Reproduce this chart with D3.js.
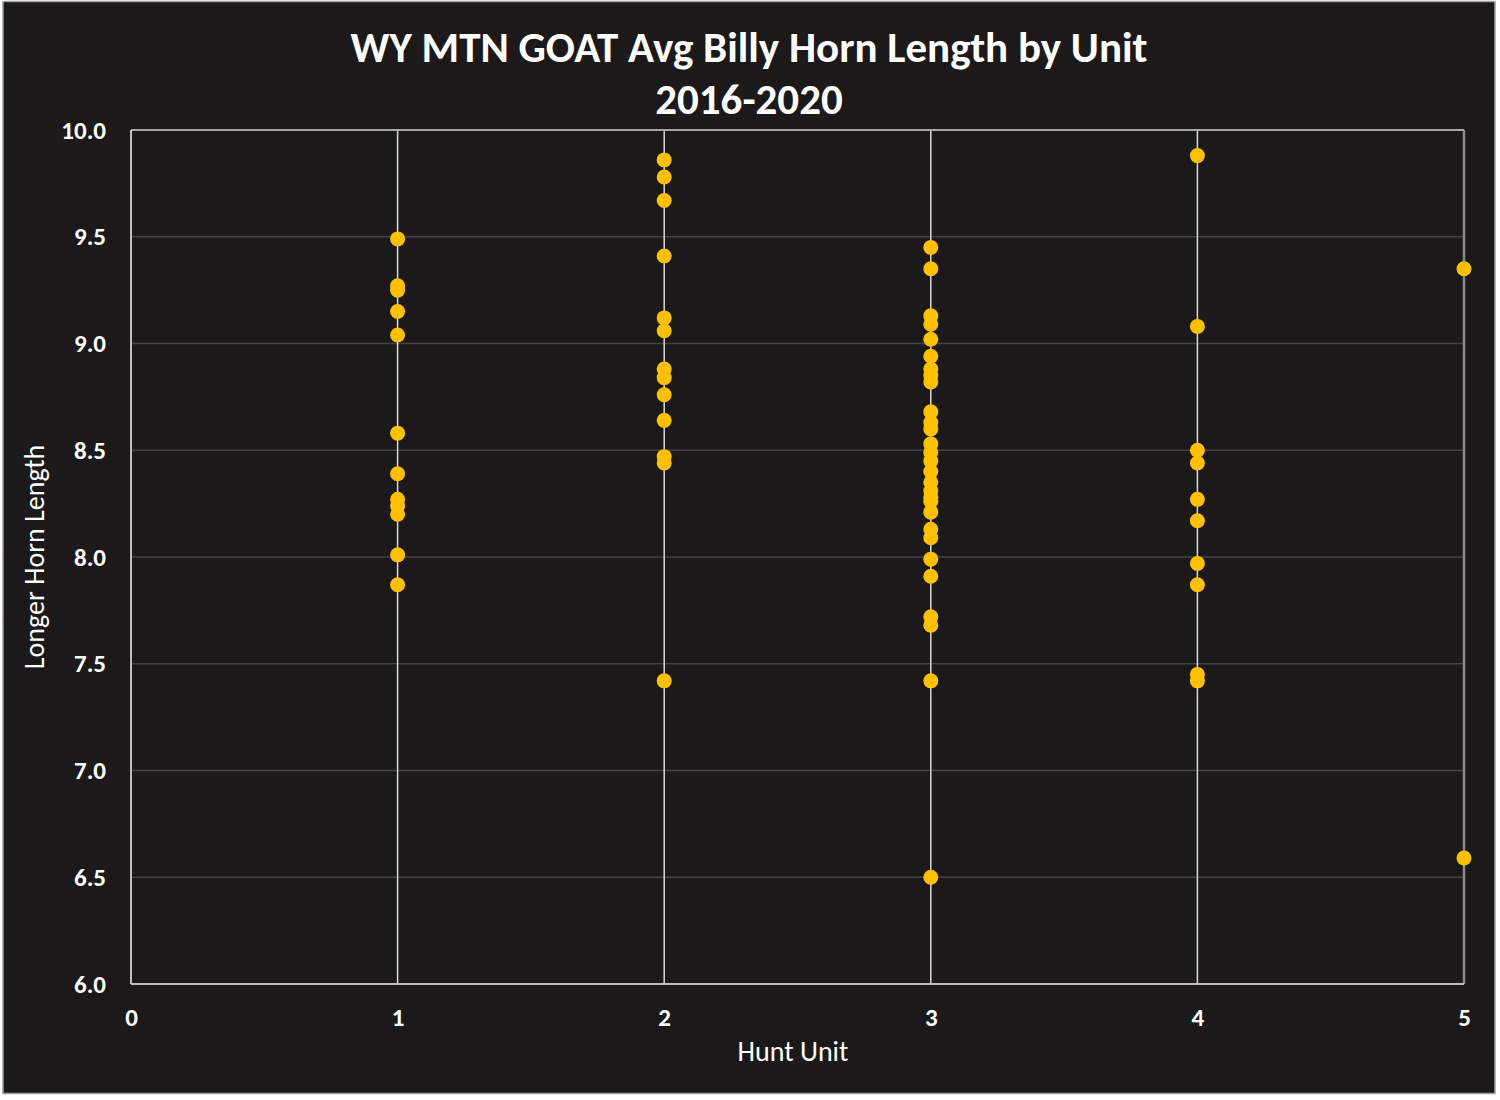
<!DOCTYPE html>
<html>
<head>
<meta charset="utf-8">
<script src="https://cdn.jsdelivr.net/npm/d3@7"></script>
<style>
  html, body { margin: 0; padding: 0; background: #ffffff; }
  svg { display: block; }
</style>
</head>
<body>
<svg id="chart" width="1500" height="1100"></svg>
<script>
const titleLines = ["WY MTN GOAT Avg Billy Horn Length by Unit", "2016-2020"];
const xLabel = "Hunt Unit";
const yLabel = "Longer Horn Length";
const xTicks = [0, 1, 2, 3, 4, 5];
const yTicks = [6.0, 6.5, 7.0, 7.5, 8.0, 8.5, 9.0, 9.5, 10.0];

const unit1 = [9.49, 9.27, 9.25, 9.15, 9.04, 8.58, 8.39, 8.27, 8.24, 8.20, 8.01, 7.87];
const unit2 = [9.86, 9.78, 9.67, 9.41, 9.12, 9.06, 8.88, 8.84, 8.76, 8.64, 8.47, 8.44, 7.42];
const unit3 = [9.45, 9.35, 9.13, 9.09, 9.02, 8.94, 8.88, 8.85, 8.82, 8.68, 8.63, 8.60,
               8.53, 8.49, 8.45, 8.40, 8.35, 8.31, 8.28, 8.26, 8.21, 8.13, 8.09,
               7.99, 7.91, 7.72, 7.68, 7.42, 6.50];
const unit4 = [9.88, 9.08, 8.50, 8.44, 8.27, 8.17, 7.97, 7.87, 7.45, 7.42];
const unit5 = [9.35, 6.59];

const units = [1, 2, 3, 4, 5];
const unitValues = [unit1, unit2, unit3, unit4, unit5];
const points = [];
units.forEach((u, i) => unitValues[i].forEach(v => points.push({unit: u, value: v})));

const svg = d3.select("#chart");
const font = "Carlito, Calibri, Lato, 'Open Sans', sans-serif";

// background card
svg.append("rect").attr("x", 3).attr("y", 1.5).attr("width", 1492).attr("height", 1092)
  .attr("fill", "#1b191a").attr("stroke", "#a0a0a0").attr("stroke-width", 1.5);

const x = d3.scaleLinear().domain([0, 5]).range([131, 1464]);
const y = d3.scaleLinear().domain([6, 10]).range([984, 130]);

// horizontal gridlines
svg.append("g").selectAll("line").data(yTicks.filter(t => t > 6 && t < 10)).join("line")
  .attr("x1", x(0)).attr("x2", x(5))
  .attr("y1", d => y(d)).attr("y2", d => y(d))
  .attr("stroke", "#454345").attr("stroke-width", 1.5);

// vertical gridlines
svg.append("g").selectAll("line").data([1, 2, 3, 4]).join("line")
  .attr("x1", d => x(d)).attr("x2", d => x(d))
  .attr("y1", y(10)).attr("y2", y(6))
  .attr("stroke", "#d9d9d9").attr("stroke-width", 1.5);

// plot frame
svg.append("line").attr("x1", x(5)).attr("x2", x(5)).attr("y1", y(10)).attr("y2", y(6))
  .attr("stroke", "#8a8a8a").attr("stroke-width", 2.5);
svg.append("line").attr("x1", x(0)).attr("x2", x(5)).attr("y1", y(10)).attr("y2", y(10))
  .attr("stroke", "#a6a6a6").attr("stroke-width", 2);
svg.append("line").attr("x1", x(0)).attr("x2", x(5)).attr("y1", y(6)).attr("y2", y(6))
  .attr("stroke", "#bfbfbf").attr("stroke-width", 2);
svg.append("line").attr("x1", x(0)).attr("x2", x(0)).attr("y1", y(10)).attr("y2", y(6))
  .attr("stroke", "#bfbfbf").attr("stroke-width", 2);

// axes (labels only) via d3 axis
const yAxis = d3.axisLeft(y).tickValues(yTicks).tickFormat(d3.format(".1f")).tickSize(0).tickPadding(25);
const gy = svg.append("g").attr("transform", `translate(${x(0)},0)`).call(yAxis);
gy.select(".domain").remove();
gy.selectAll("text").attr("fill", "#ffffff").attr("font-family", font)
  .attr("font-size", 25).attr("font-weight", "bold").attr("dy", "0.32em");

const xAxis = d3.axisBottom(x).tickValues(xTicks).tickFormat(d3.format("d")).tickSize(0).tickPadding(24);
const gx = svg.append("g").attr("transform", `translate(0,${y(6)})`).call(xAxis);
gx.select(".domain").remove();
gx.selectAll("text").attr("fill", "#ffffff").attr("font-family", font)
  .attr("font-size", 25).attr("font-weight", "bold");

// points
svg.append("g").selectAll("circle").data(points).join("circle")
  .attr("cx", d => x(d.unit)).attr("cy", d => y(d.value)).attr("r", 7.5)
  .attr("fill", "#ffc000");

// title
svg.append("text").attr("x", 749).attr("y", 62).attr("text-anchor", "middle")
  .attr("fill", "#ffffff").attr("font-family", font).attr("font-weight", "bold").attr("font-size", 43)
  .text(titleLines[0]);
svg.append("text").attr("x", 749).attr("y", 114).attr("text-anchor", "middle")
  .attr("fill", "#ffffff").attr("font-family", font).attr("font-weight", "bold").attr("font-size", 43)
  .text(titleLines[1]);

// axis titles
svg.append("text").attr("x", 793).attr("y", 1061).attr("text-anchor", "middle")
  .attr("fill", "#ffffff").attr("font-family", font).attr("font-size", 28)
  .text(xLabel);
svg.append("text").attr("transform", "translate(44,557) rotate(-90)").attr("text-anchor", "middle")
  .attr("fill", "#ffffff").attr("font-family", font).attr("font-size", 28)
  .text(yLabel);
</script>
</body>
</html>
